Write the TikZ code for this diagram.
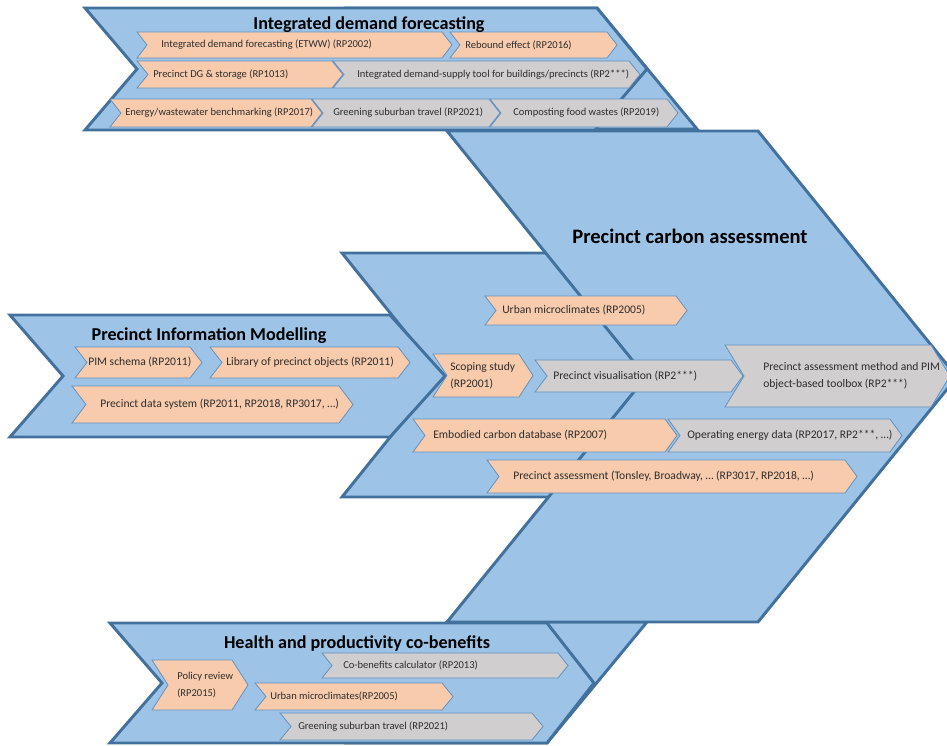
\documentclass[tikz,border=0pt]{standalone}
\usepackage{fontspec}
\setmainfont{Carlito}
\definecolor{bandfill}{RGB}{157,195,230}
\definecolor{bandline}{RGB}{65,113,156}
\definecolor{boxorange}{RGB}{248,203,173}
\definecolor{boxgray}{RGB}{208,206,206}
\definecolor{boxline}{RGB}{100,145,190}
\definecolor{boxtext}{RGB}{45,45,45}

\begin{document}
\begin{tikzpicture}[x=0.75pt,y=0.75pt,yscale=-1,xscale=1,
  band/.style={draw=bandline,fill=bandfill,line width=2.2pt},
  orbox/.style={draw=boxline,fill=boxorange,line width=0.6pt},
  grbox/.style={draw=boxline,fill=boxgray,line width=0.6pt},
  heading/.style={inner sep=0pt,anchor=base,font=\fontsize{13.6}{16}\selectfont\bfseries},
  lbl/.style={inner sep=0pt,anchor=west,align=left,text=boxtext,font=\fontsize{7.9}{12.5}\selectfont},
  lblbig/.style={lbl,font=\fontsize{8.7}{12.5}\selectfont}]
        \path[use as bounding box] (0,0) rectangle (947,746);
        \clip (0,0) rectangle (947,746);

        %Shape: Connector top
        \draw [band] (347,8) -- (597,8) -- (697,129) -- (447,129) -- cycle ;
        %Shape: Connector bottom
        \draw [band] (447,622) -- (647,622) -- (547,743) -- (347,743) -- cycle ;
        %Shape: Connector middle
        \draw [band] (342,253) -- (600,253) -- (700,375) -- (600,497) -- (342,497) -- (440,375) -- cycle ;
        %Shape: Chevron carbon assessment
        \draw [band] (447,131) -- (758,131) -- (957,377) -- (758,622) -- (447,622) -- (646,377) -- cycle ;
        %Shape: Chevron demand forecasting
        \draw [band] (85,8) -- (597,8) -- (647,69) -- (595,130) -- (85,130) -- (137,69) -- cycle ;
        %Shape: Chevron information modelling
        \draw [band] (10,315) -- (390,315) -- (445,376) -- (390,437) -- (10,437) -- (63,376) -- cycle ;
        %Shape: Chevron co-benefits
        \draw [band] (110,623) -- (547,623) -- (594,683) -- (547,743) -- (110,743) -- (162,683) -- cycle ;

        %Shape: Chevron boxes, demand forecasting
        \draw [orbox] (137,32) -- (442,32) -- (452,45) -- (442,58) -- (137,58) -- (147,45) -- cycle ;
        \draw [orbox] (450,32) -- (607,32) -- (617,45) -- (607,58) -- (450,58) -- (460,45) -- cycle ;
        \draw [orbox] (137,61) -- (332,61) -- (343,74.5) -- (332,88) -- (137,88) -- (148,74.5) -- cycle ;
        \draw [grbox] (333,61) -- (629,61) -- (640,74.5) -- (629,88) -- (333,88) -- (344,74.5) -- cycle ;
        \draw [grbox] (490,99) -- (667,99) -- (678,113) -- (667,127) -- (490,127) -- (501,113) -- cycle ;
        \draw [grbox] (312,99) -- (489,99) -- (500,113) -- (489,127) -- (312,127) -- (323,113) -- cycle ;
        \draw [orbox] (110,99) -- (311,99) -- (322,113) -- (311,127) -- (110,127) -- (121,113) -- cycle ;

        %Shape: Chevron boxes, information modelling
        \draw [orbox] (75,347) -- (190,347) -- (202,362.5) -- (190,378) -- (75,378) -- (87,362.5) -- cycle ;
        \draw [orbox] (210,347) -- (398,347) -- (410,362.5) -- (398,378) -- (210,378) -- (222,362.5) -- cycle ;
        \draw [orbox] (72,386) -- (339,386) -- (353,404.5) -- (339,423) -- (72,423) -- (86,404.5) -- cycle ;

        %Shape: Chevron boxes, carbon assessment
        \draw [orbox] (485,296) -- (676,296) -- (687,310.5) -- (676,325) -- (485,325) -- (496,310.5) -- cycle ;
        \draw [grbox] (725,345) -- (931,345) -- (950,376) -- (931,407) -- (725,407) -- (744,376) -- cycle ;
        \draw [grbox] (535,360) -- (731,360) -- (743,376) -- (731,392) -- (535,392) -- (547,376) -- cycle ;
        \draw [orbox] (433,354) -- (519,354) -- (533,375.5) -- (519,397) -- (433,397) -- (447,375.5) -- cycle ;
        \draw [grbox] (668,419) -- (890,419) -- (902,435.5) -- (890,452) -- (668,452) -- (680,435.5) -- cycle ;
        \draw [orbox] (413,419) -- (665,419) -- (677,435.5) -- (665,452) -- (413,452) -- (425,435.5) -- cycle ;
        \draw [orbox] (487,460) -- (845,460) -- (857,476.5) -- (845,493) -- (487,493) -- (499,476.5) -- cycle ;

        %Shape: Chevron boxes, co-benefits
        \draw [grbox] (322,653) -- (558,653) -- (568,665.5) -- (558,678) -- (322,678) -- (332,665.5) -- cycle ;
        \draw [orbox] (152,660) -- (232,660) -- (248,685) -- (232,710) -- (152,710) -- (168,685) -- cycle ;
        \draw [orbox] (255,683) -- (442,683) -- (453,696.5) -- (442,710) -- (255,710) -- (266,696.5) -- cycle ;
        \draw [grbox] (280,713) -- (532,713) -- (543,726.5) -- (532,740) -- (280,740) -- (291,726.5) -- cycle ;

        % Text Node
        \node [heading] (tIDF) at (369,30) {Integrated demand  forecasting};
        % Text Node
        \node [heading] (tPIM) at (209,340) {Precinct Information  Modelling};
        % Text Node
        \node [heading,font=\fontsize{15.4}{18}\selectfont\bfseries] (tPCA) at (690,243) {Precinct carbon assessment};
        % Text Node
        \node [heading] (tHPC) at (357,648) {Health and productivity co-benefits};

        % Text Node
        \node [lbl] (b1) at (161,45) {Integrated demand forecasting (ETWW) (RP2002)};
        % Text Node
        \node [lbl] (b2) at (465,45) {Rebound effect (RP2016)};
        % Text Node
        \node [lbl] (b3) at (153,74.5) {Precinct DG \& storage (RP1013)};
        % Text Node
        \node [lbl] (b4) at (357,74.5) {Integrated demand-supply tool for buildings/precincts (RP2***)};
        % Text Node
        \node [lbl] (b5) at (125,113) {Energy/wastewater benchmarking (RP2017)};
        % Text Node
        \node [lbl] (b6) at (333,113) {Greening suburban travel (RP2021)};
        % Text Node
        \node [lbl] (b7) at (513,113) {Composting food wastes (RP2019)};

        % Text Node
        \node [lblbig] (p1) at (88,362.5) {PIM schema (RP2011)};
        % Text Node
        \node [lblbig] (p2) at (226,362.5) {Library of precinct objects (RP2011)};
        % Text Node
        \node [lblbig] (p3) at (100,404.5) {Precinct data system (RP2011, RP2018, RP3017, …)};

        % Text Node
        \node [lblbig] (m1) at (502,310.5) {Urban microclimates (RP2005)};
        % Text Node
        \node [lblbig] (m2) at (450,375.5) {Scoping study\\(RP2001)};
        % Text Node
        \node [lblbig] (m3) at (553,376) {Precinct visualisation (RP2***)};
        % Text Node
        \node [lblbig] (m4) at (763,376) {Precinct assessment method  and PIM\\object-based toolbox (RP2***)};
        % Text Node
        \node [lblbig] (m5) at (433,435.5) {Embodied  carbon database (RP2007)};
        % Text Node
        \node [lblbig] (m6) at (687,435.5) {Operating energy  data (RP2017, RP2***,  …)};
        % Text Node
        \node [lblbig] (m7) at (513,476.5) {Precinct assessment (Tonsley, Broadway, … (RP3017, RP2018, …)};

        % Text Node
        \node [lbl] (h1) at (177,685) {Policy review\\(RP2015)};
        % Text Node
        \node [lbl] (h2) at (343,665.5) {Co-benefits calculator (RP2013)};
        % Text Node
        \node [lbl] (h3) at (270,696.5) {Urban microclimates(RP2005)};
        % Text Node
        \node [lbl] (h4) at (298,726.5) {Greening suburban travel (RP2021)};

\end{tikzpicture}
\end{document}
